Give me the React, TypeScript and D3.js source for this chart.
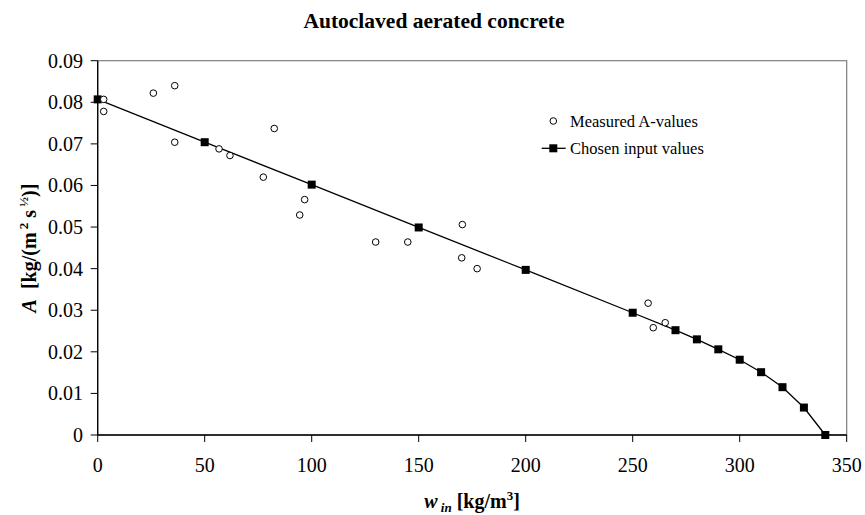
import React from "react";
import * as d3 from "d3";

// Measured A-values (open circles)
const measuredW = [2.8, 2.8, 26, 36, 36, 56.7, 61.8, 77.4, 82.5, 94.4, 96.7, 129.9, 144.9, 170.4, 170.1, 177.3, 257.2, 259.6, 265.2];
const measuredA = [0.0807, 0.0778, 0.0822, 0.084, 0.0704, 0.0688, 0.0672, 0.062, 0.0737, 0.0529, 0.0566, 0.0464, 0.0464, 0.0506, 0.0426, 0.04, 0.0317, 0.0258, 0.027];

// Chosen input values (line with squares)
const chosenW = [0, 50, 100, 150, 200, 250, 270, 280, 290, 300, 310, 320, 330, 340];
const chosenA = [0.0807, 0.0704, 0.0602, 0.0499, 0.0397, 0.0294, 0.0252, 0.023, 0.0206, 0.0181, 0.0151, 0.0115, 0.0066, 0];

const xTicks = [0, 50, 100, 150, 200, 250, 300, 350];
const yTicks = [0, 0.01, 0.02, 0.03, 0.04, 0.05, 0.06, 0.07, 0.08, 0.09];

const W = 865;
const H = 515;
const left = 97.7;
const right = 846.7;
const top = 60.7;
const bottom = 435;
const font = "'Liberation Serif', 'Times New Roman', serif";

export default function App() {
  const x = d3.scaleLinear().domain([0, 350]).range([left, right]);
  const y = d3.scaleLinear().domain([0, 0.09]).range([bottom, top]);

  const line = d3
    .line<number>()
    .x((_, i) => x(chosenW[i]))
    .y((d) => y(d));

  const sq = 8;

  return (
    <svg
      width={W}
      height={H}
      style={{ position: "absolute", left: 0, top: 0, background: "#fff" }}
      fontFamily={font}
    >
      {/* frame */}
      <rect x={left} y={top} width={right - left} height={bottom - top} fill="none" stroke="#7f7f7f" strokeWidth={1.2} />
      <line x1={left} x2={left} y1={top} y2={bottom} stroke="#000" strokeWidth={1.3} />
      <line x1={left} x2={right} y1={bottom} y2={bottom} stroke="#000" strokeWidth={1.3} />

      {/* y ticks */}
      {yTicks.map((t) => (
        <g key={"y" + t}>
          <line x1={left - 7} x2={left} y1={y(t)} y2={y(t)} stroke="#000" strokeWidth={1} />
          <text x={83} y={y(t) + 7} textAnchor="end" fontSize={20}>
            {t === 0 ? "0" : d3.format(".2f")(t)}
          </text>
        </g>
      ))}

      {/* x ticks */}
      {xTicks.map((t) => (
        <g key={"x" + t}>
          <line x1={x(t)} x2={x(t)} y1={bottom} y2={bottom + 7} stroke="#000" strokeWidth={1} />
          <text x={x(t)} y={472} textAnchor="middle" fontSize={20}>
            {t}
          </text>
        </g>
      ))}

      {/* chosen line */}
      <path d={line(chosenA) || ""} fill="none" stroke="#000" strokeWidth={1.3} />
      {chosenA.map((a, i) => (
        <rect key={"s" + i} x={x(chosenW[i]) - sq / 2} y={y(a) - sq / 2} width={sq} height={sq} fill="#000" />
      ))}

      {/* measured points */}
      {measuredA.map((a, i) => (
        <circle key={"c" + i} cx={x(measuredW[i])} cy={y(a)} r={3.3} fill="#fff" stroke="#000" strokeWidth={1} />
      ))}

      {/* legend */}
      <circle cx={553.3} cy={121} r={3.3} fill="#fff" stroke="#000" strokeWidth={1} />
      <text x={570} y={126.5} fontSize={16.5}>Measured A-values</text>
      <line x1={541.7} x2={565.7} y1={148.3} y2={148.3} stroke="#000" strokeWidth={1.3} />
      <rect x={553.3 - sq / 2} y={148.3 - sq / 2} width={sq} height={sq} fill="#000" />
      <text x={570} y={153.8} fontSize={16.5}>Chosen input values</text>

      {/* title */}
      <text x={434} y={28} textAnchor="middle" fontSize={21.5} fontWeight="bold">
        Autoclaved aerated concrete
      </text>

      {/* x label */}
      <text x={472} y={508} textAnchor="middle" fontSize={20} fontWeight="bold">
        <tspan fontStyle="italic">w</tspan>
        <tspan fontStyle="italic" fontSize={13} dy={4}> in</tspan>
        <tspan dy={-4}>  [kg/m</tspan>
        <tspan fontSize={13} dy={-8}>3</tspan>
        <tspan dy={8}>]</tspan>
      </text>

      {/* y label */}
      <text
        transform={`translate(36, 248) rotate(-90)`}
        textAnchor="middle"
        fontSize={20}
        fontWeight="bold"
        style={{ whiteSpace: "pre" }}
      >
        <tspan fontStyle="italic">A</tspan>
        <tspan>{"  [kg/(m"}</tspan>
        <tspan fontSize={13} dy={-8}>{" 2"}</tspan>
        <tspan dy={8}>{" s"}</tspan>
        <tspan fontSize={13} dy={-8}>{" ½"}</tspan>
        <tspan dy={8}>)]</tspan>
      </text>
    </svg>
  );
}
